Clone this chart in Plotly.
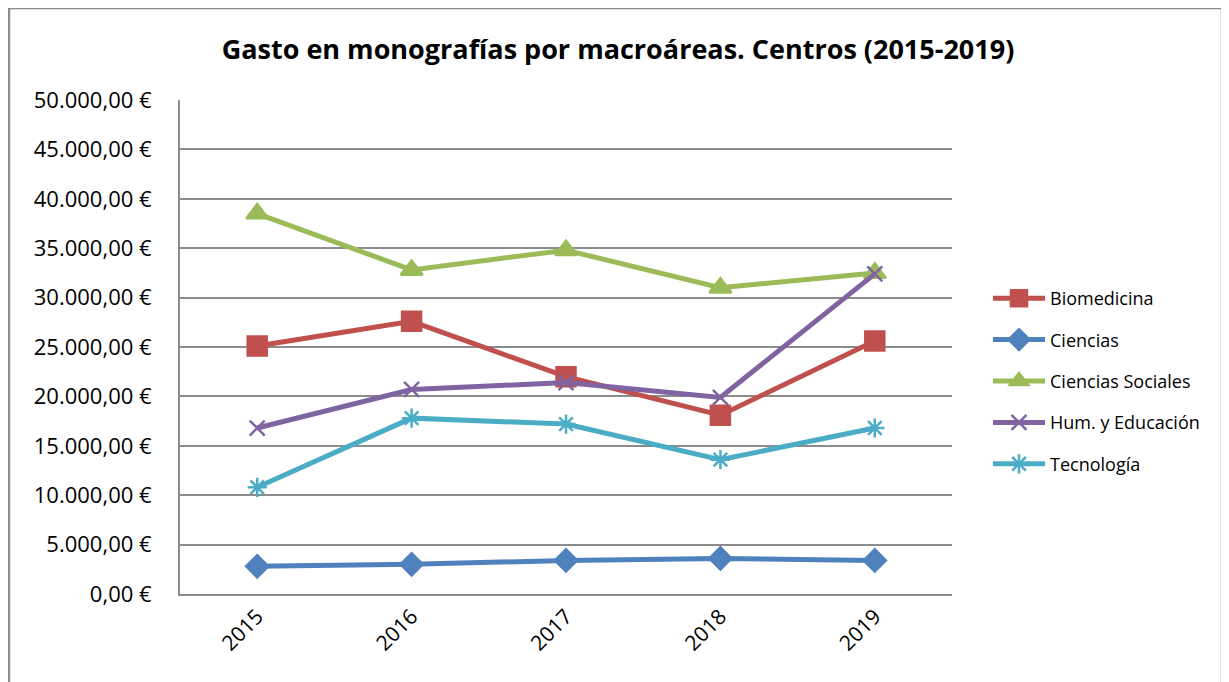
import plotly.graph_objects as go

years = ["2015", "2016", "2017", "2018", "2019"]

biomedicina = [25100, 27600, 22000, 18100, 25600]
ciencias = [2800, 3000, 3400, 3600, 3400]
ciencias_sociales = [38500, 32800, 34800, 31000, 32500]
humanidades = [16800, 20700, 21400, 19900, 32400]
tecnologia = [10800, 17800, 17200, 13600, 16800]

tick_vals = [0, 5000, 10000, 15000, 20000, 25000, 30000, 35000, 40000, 45000, 50000]
tick_text = ["0,00 €", "5.000,00 €", "10.000,00 €", "15.000,00 €", "20.000,00 €",
             "25.000,00 €", "30.000,00 €", "35.000,00 €", "40.000,00 €",
             "45.000,00 €", "50.000,00 €"]

series = [
    ("Biomedicina", biomedicina, "#C0504D", "square", 19),
    ("Ciencias", ciencias, "#4F81BD", "diamond", 17),
    ("Ciencias Sociales", ciencias_sociales, "#9BBB59", "triangle-up", 19),
    ("Hum. y Educación", humanidades, "#8064A2", "x-thin-open", 15),
    ("Tecnología", tecnologia, "#4BACC6", "asterisk-open", 16),
]

fig = go.Figure()

for name, vals, color, symbol, size in series:
    fig.add_trace(go.Scatter(
        x=years, y=vals,
        mode="lines+markers",
        name=name,
        legendgroup=name,
        line=dict(color=color, width=5),
        marker=dict(symbol=symbol, size=size, color=color,
                    line=dict(color=color, width=2.5)),
    ))

# page body has an 8px margin, so place everything 8px up/left
off = 8
W, H = 1229, 682
L, R, T, B = 180 - off, 952 - off, 100 - off, 594 - off

fig.update_layout(
    width=W, height=H,
    margin=dict(l=L, r=W - R, t=T, b=H - B),
    paper_bgcolor="white",
    plot_bgcolor="white",
    font=dict(family="Open Sans, Lato, sans-serif", color="#000000"),
    title=dict(
        text="<b>Gasto en monografías por macroáreas. Centros (2015-2019)</b>",
        x=(618 - off) / W, xanchor="center", y=1 - (50 - off) / H, yanchor="middle",
        font=dict(size=27),
    ),
    xaxis=dict(
        type="category",
        range=[-0.5, 4.5],
        showgrid=False,
        showline=True, linecolor="#8c8c8c", linewidth=2,
        tickangle=-45,
        tickfont=dict(size=21),
        ticks="",
        zeroline=False,
    ),
    yaxis=dict(
        range=[0, 50000],
        tickvals=tick_vals,
        ticktext=tick_text,
        showgrid=True, gridcolor="#8c8c8c", gridwidth=2,
        showline=True, linecolor="#8c8c8c", linewidth=2,
        tickfont=dict(size=22),
        ticks="",
        ticklabelstandoff=22,
        zeroline=False,
    ),
    legend=dict(
        x=(988 - off - L) / (R - L), xanchor="left",
        y=(B - (280 - off)) / (B - T), yanchor="top",
        font=dict(size=18),
        tracegroupgap=15,
        itemwidth=52,
        bgcolor="rgba(0,0,0,0)",
    ),
    shapes=[
        dict(
            type="rect", xref="paper", yref="paper",
            x0=(9 - off - L) / (R - L), x1=(1222 - off - L) / (R - L),
            y0=(B - 700) / (B - T), y1=(B - (8 - off)) / (B - T),
            line=dict(color="#8c8c8c", width=2.5),
            fillcolor="rgba(0,0,0,0)",
            layer="below",
        )
    ],
)

fig.write_html("out.html")
